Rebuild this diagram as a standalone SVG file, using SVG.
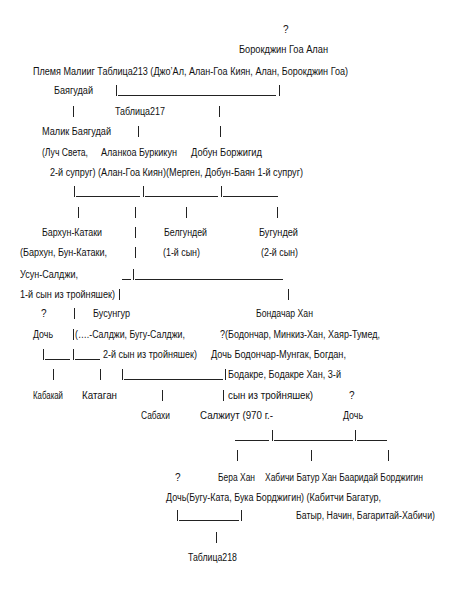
<svg xmlns="http://www.w3.org/2000/svg" width="451" height="599" viewBox="0 0 451 599">
<style>
.t{font-family:"Liberation Sans",Arial,sans-serif;font-size:10px;fill:#111}
.c line{stroke:#222;stroke-width:1}
</style>
<rect width="451" height="599" fill="#fff"/>
<g id="connectors" class="c">
<line x1="116.5" y1="85" x2="116.5" y2="96"/><line x1="118" y1="95.5" x2="276" y2="95.5"/><line x1="279.5" y1="85" x2="279.5" y2="96"/>
<line x1="73.5" y1="106" x2="73.5" y2="117"/><line x1="219.5" y1="106" x2="219.5" y2="117"/>
<line x1="138.5" y1="126" x2="138.5" y2="137"/><line x1="220.5" y1="126" x2="220.5" y2="137"/>
<line x1="74.5" y1="186" x2="74.5" y2="197"/><line x1="76" y1="196.5" x2="140" y2="196.5"/><line x1="143.5" y1="186" x2="143.5" y2="197"/><line x1="145" y1="196.5" x2="218" y2="196.5"/><line x1="221.5" y1="186" x2="221.5" y2="197"/><line x1="223" y1="196.5" x2="278" y2="196.5"/>
<line x1="78.5" y1="207" x2="78.5" y2="218"/><line x1="135.5" y1="207" x2="135.5" y2="218"/><line x1="186.5" y1="207" x2="186.5" y2="218"/><line x1="277.5" y1="207" x2="277.5" y2="218"/>
<line x1="135.5" y1="227" x2="135.5" y2="238"/>
<line x1="135.5" y1="247" x2="135.5" y2="258"/>
<line x1="122" y1="279.5" x2="131" y2="279.5"/><line x1="133.5" y1="269" x2="133.5" y2="280"/><line x1="135" y1="279.5" x2="283" y2="279.5"/>
<line x1="119.5" y1="289" x2="119.5" y2="300"/><line x1="288.5" y1="289" x2="288.5" y2="300"/>
<line x1="74.5" y1="308" x2="74.5" y2="319"/>
<line x1="73.5" y1="329" x2="73.5" y2="340"/>
<line x1="43.5" y1="349" x2="43.5" y2="360"/><line x1="45" y1="359.5" x2="70" y2="359.5"/><line x1="73.5" y1="349" x2="73.5" y2="360"/><line x1="75" y1="359.5" x2="100" y2="359.5"/>
<line x1="53.5" y1="369" x2="53.5" y2="380"/><line x1="100.5" y1="369" x2="100.5" y2="380"/><line x1="122.5" y1="369" x2="122.5" y2="380"/><line x1="124" y1="379.5" x2="223" y2="379.5"/><line x1="225.5" y1="369" x2="225.5" y2="380"/>
<line x1="162.5" y1="390" x2="162.5" y2="401"/><line x1="223.5" y1="390" x2="223.5" y2="401"/>
<line x1="235" y1="440.5" x2="269" y2="440.5"/><line x1="272.5" y1="430" x2="272.5" y2="441"/><line x1="274" y1="440.5" x2="353" y2="440.5"/><line x1="355.5" y1="430" x2="355.5" y2="441"/><line x1="357" y1="440.5" x2="387" y2="440.5"/>
<line x1="237.5" y1="450" x2="237.5" y2="461"/><line x1="311.5" y1="450" x2="311.5" y2="461"/><line x1="388.5" y1="450" x2="388.5" y2="461"/>
<line x1="177.5" y1="510" x2="177.5" y2="521"/><line x1="179" y1="520.5" x2="239" y2="520.5"/><line x1="241.5" y1="510" x2="241.5" y2="521"/>
<line x1="216.5" y1="532" x2="216.5" y2="543"/>
</g>
<g id="n-q1"><text class="t" x="283" y="32.5">?</text></g>
<g id="n-borokdzhin"><text class="t" x="239" y="52.5" textLength="89" lengthAdjust="spacingAndGlyphs">Борокджин Гоа Алан</text></g>
<g id="n-plemya"><text class="t" x="33" y="74.5" textLength="315" lengthAdjust="spacingAndGlyphs">Племя Малииг Таблица213 (Джо’Ал, Алан-Гоа Киян, Алан, Борокджин Гоа)</text></g>
<g id="n-bayagudai"><text class="t" x="54" y="93.5" textLength="39" lengthAdjust="spacingAndGlyphs">Баягудай</text></g>
<g id="n-tab217"><text class="t" x="115" y="114.5" textLength="50" lengthAdjust="spacingAndGlyphs">Таблица217</text></g>
<g id="n-malik"><text class="t" x="42" y="134.5" textLength="69" lengthAdjust="spacingAndGlyphs">Малик Баягудай</text></g>
<g id="n-luch"><text class="t" x="42" y="155.5" textLength="46" lengthAdjust="spacingAndGlyphs">(Луч Света,</text></g>
<g id="n-alankoa"><text class="t" x="101" y="155.5" textLength="76" lengthAdjust="spacingAndGlyphs">Аланкоа Буркикун</text></g>
<g id="n-dobun"><text class="t" x="191" y="155.5" textLength="71" lengthAdjust="spacingAndGlyphs">Добун Боржигид</text></g>
<g id="n-spouses"><text class="t" x="50" y="175.5" textLength="253" lengthAdjust="spacingAndGlyphs">2-й супруг) (Алан-Гоа Киян)(Мерген, Добун-Баян 1-й супруг)</text></g>
<g id="n-barkhun">
<text class="t" x="42" y="235.5" textLength="60" lengthAdjust="spacingAndGlyphs">Бархун-Катаки</text>
<text class="t" x="20" y="255.5" textLength="87" lengthAdjust="spacingAndGlyphs">(Бархун, Бун-Катаки,</text>
<text class="t" x="20" y="277.5" textLength="58" lengthAdjust="spacingAndGlyphs">Усун-Салджи,</text>
<text class="t" x="20" y="297.5" textLength="95" lengthAdjust="spacingAndGlyphs">1-й сын из тройняшек)</text>
</g>
<g id="n-belgundei">
<text class="t" x="164" y="235.5" textLength="43" lengthAdjust="spacingAndGlyphs">Белгундей</text>
<text class="t" x="163" y="255.5" textLength="37" lengthAdjust="spacingAndGlyphs">(1-й сын)</text>
</g>
<g id="n-bugundei">
<text class="t" x="259" y="235.5" textLength="39" lengthAdjust="spacingAndGlyphs">Бугундей</text>
<text class="t" x="261" y="255.5" textLength="37" lengthAdjust="spacingAndGlyphs">(2-й сын)</text>
</g>
<g id="n-q-doch">
<text class="t" x="41" y="316.5">?</text>
<text class="t" x="33" y="337.5" textLength="20" lengthAdjust="spacingAndGlyphs">Дочь</text>
</g>
<g id="n-busungur">
<text class="t" x="93" y="316.5" textLength="37" lengthAdjust="spacingAndGlyphs">Бусунгур</text>
<text class="t" x="75" y="337.5" textLength="110" lengthAdjust="spacingAndGlyphs">(….-Салджи, Бугу-Салджи,</text>
<text class="t" x="103" y="357.5" textLength="94" lengthAdjust="spacingAndGlyphs">2-й сын из тройняшек)</text>
</g>
<g id="n-bondachar">
<text class="t" x="256" y="316.5" textLength="57" lengthAdjust="spacingAndGlyphs">Бондачар Хан</text>
<text class="t" x="220" y="337.5" textLength="160" lengthAdjust="spacingAndGlyphs">?(Бодончар, Минкиз-Хан, Хаяр-Тумед,</text>
<text class="t" x="211" y="357.5" textLength="135" lengthAdjust="spacingAndGlyphs">Дочь Бодончар-Мунгак, Богдан,</text>
<text class="t" x="228" y="377.5" textLength="113" lengthAdjust="spacingAndGlyphs">Бодакре, Бодакре Хан, 3-й</text>
<text class="t" x="228" y="398.5" textLength="85" lengthAdjust="spacingAndGlyphs">сын из тройняшек)</text>
</g>
<g id="n-kabakai"><text class="t" x="33" y="398.5" textLength="30" lengthAdjust="spacingAndGlyphs">Кабакай</text></g>
<g id="n-katagan"><text class="t" x="82" y="398.5" textLength="35" lengthAdjust="spacingAndGlyphs">Катаган</text></g>
<g id="n-q-doch2">
<text class="t" x="349" y="398.5">?</text>
<text class="t" x="343" y="418.5" textLength="20" lengthAdjust="spacingAndGlyphs">Дочь</text>
</g>
<g id="n-sabakhi"><text class="t" x="141" y="418.5" textLength="29" lengthAdjust="spacingAndGlyphs">Сабахи</text></g>
<g id="n-salzhiut"><text class="t" x="200" y="418.5" textLength="73" lengthAdjust="spacingAndGlyphs">Салжиут  (970 г.-</text></g>
<g id="n-q3"><text class="t" x="175" y="480.5">?</text></g>
<g id="n-bera"><text class="t" x="218" y="480.5" textLength="37" lengthAdjust="spacingAndGlyphs">Бера Хан</text></g>
<g id="n-khabichi"><text class="t" x="265" y="480.5" textLength="158" lengthAdjust="spacingAndGlyphs">Хабичи Батур Хан Бааридай Борджигин</text></g>
<g id="n-doch3"><text class="t" x="166" y="500.5" textLength="215" lengthAdjust="spacingAndGlyphs">Дочь(Бугу-Ката, Бука Борджигин) (Кабитчи Багатур,</text></g>
<g id="n-batyr"><text class="t" x="296" y="518.5" textLength="139" lengthAdjust="spacingAndGlyphs">Батыр, Начин, Багаритай-Хабичи)</text></g>
<g id="n-tab218"><text class="t" x="188" y="560.5" textLength="49" lengthAdjust="spacingAndGlyphs">Таблица218</text></g>
</svg>
